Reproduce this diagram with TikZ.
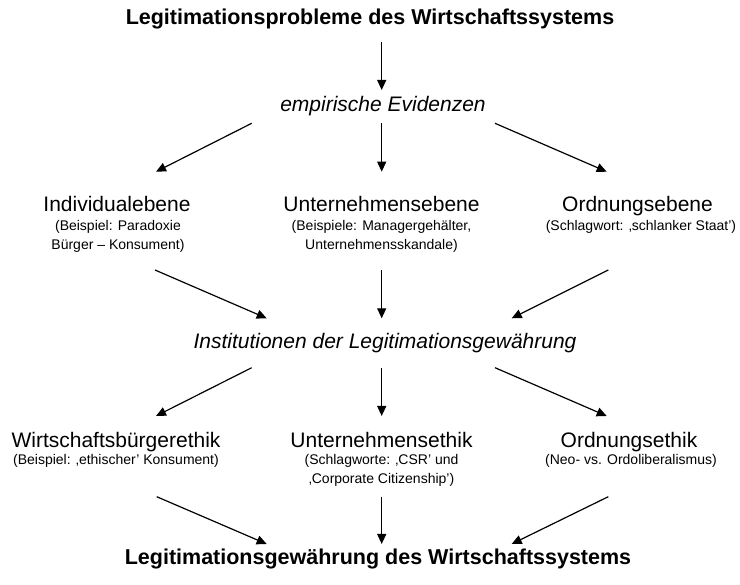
\documentclass[tikz,border=0pt]{standalone}
\usepackage{fontspec}
\setmainfont{Liberation Sans}
\usetikzlibrary{arrows.meta}
\tikzset{
  headline/.style={font=\bfseries\fontsize{21.5}{25}\selectfont},
  levelname/.style={font=\itshape\fontsize{21}{25}\selectfont},
  plane/.style={font=\fontsize{21}{25}\selectfont},
  note/.style={font=\fontsize{14}{18.6}\selectfont,align=center},
}
\begin{document}
\begin{tikzpicture}
    [x=1pt,y=-1pt,inner sep=0pt,anchor=base,line width=1.2pt,
     >={Triangle[length=10pt,width=9pt]}]
    \useasboundingbox (0,0) rectangle (740,585);
    % top and bottom line
    \node (problems) at (370,25) [headline] {Legitimationsprobleme des Wirtschaftssystems};
    \node (legitimacy) at (378,565) [headline] {Legitimationsgewährung des Wirtschaftssystems};
    % middle lines
    \node (evidence) at (383,111.5) [levelname] {empirische Evidenzen};
    \node (institutions) at (385,349) [levelname] {Institutionen der Legitimationsgewährung};
    % levels (two-line notes sit on their last line)
    \node (individual) at (117,211.5) [plane] {Individualebene};
    \node (firm) at (381.5,211.5) [plane] {Unternehmensebene};
    \node (order) at (637.5,211.5) [plane] {Ordnungsebene};
    \node (individualnote) at (118,249.1) [note] {(Beispiel: Paradoxie\\Bürger – Konsument)};
    \node (firmnote) at (381.5,249.1) [note] {(Beispiele: Managergehälter,\\Unternehmensskandale)};
    \node (ordernote) at (641,230.5) [note] {(Schlagwort: ‚schlanker Staat')};
    % ethics
    \node (citizenethics) at (116,447.5) [plane] {Wirtschaftsbürgerethik};
    \node (firmethics) at (381.5,447.5) [plane] {Unternehmensethik};
    \node (orderethics) at (629,447.5) [plane] {Ordnungsethik};
    \node (citizennote) at (116,465) [note] {(Beispiel: ‚ethischer' Konsument)};
    \node (firmethicsnote) at (381.5,483.6) [note] {(Schlagworte: ‚CSR' und\\‚Corporate Citizenship')};
    \node (orderethicsnote) at (631,465) [note] {(Neo- vs. Ordoliberalismus)};
    % arrows
    \draw [->] ([shift={(11.7,17)}]problems.base) to ([shift={(-1.3,-21.5)}]evidence.base);
    \draw [->] ([shift={(-131.3,11.8)}]evidence.base) to ([shift={(39,-39.8)}]individual.base);
    \draw [->] ([shift={(-1.3,11.8)}]evidence.base) to ([shift={(0.2,-39.8)}]firm.base);
    \draw [->] ([shift={(112,11.8)}]evidence.base) to ([shift={(-30.8,-39.8)}]order.base);
    \draw [->] ([shift={(37,20.9)}]individualnote.base) to ([shift={(-118.3,-30.7)}]institutions.base);
    \draw [->] ([shift={(0.2,20.9)}]firmnote.base) to ([shift={(-3.3,-30.7)}]institutions.base);
    \draw [->] ([shift={(-32.7,39.5)}]ordernote.base) to ([shift={(126.7,-30.7)}]institutions.base);
    \draw [->] ([shift={(-133.3,18.7)}]institutions.base) to ([shift={(40,-31.5)}]citizenethics.base);
    \draw [->] ([shift={(-3.3,18.7)}]institutions.base) to ([shift={(0.2,-31.5)}]firmethics.base);
    \draw [->] ([shift={(110,18.7)}]institutions.base) to ([shift={(-22.3,-31.5)}]orderethics.base);
    \draw [->] ([shift={(40.7,31.7)}]citizennote.base) to ([shift={(-111.3,-21)}]legitimacy.base);
    \draw [->] ([shift={(0.2,13.1)}]firmethicsnote.base) to ([shift={(3.7,-21)}]legitimacy.base);
    \draw [->] ([shift={(-22.7,31.7)}]orderethicsnote.base) to ([shift={(133.7,-21)}]legitimacy.base);
  \end{tikzpicture}
\end{document}
